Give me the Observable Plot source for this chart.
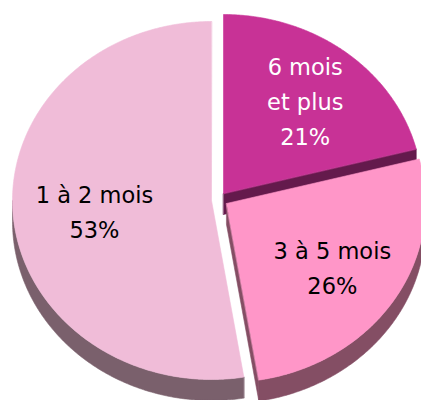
<!DOCTYPE html>
<html><head><meta charset="utf-8">
<script src="https://cdn.jsdelivr.net/npm/d3@7"></script>
<script src="https://cdn.jsdelivr.net/npm/@observablehq/plot@0.6"></script>
<style>body{margin:0;background:#fff} svg{display:block}</style>
</head><body><div id="chart"></div>
<script>
// ---- data ----
const categories = ["6 mois\net plus", "3 à 5 mois", "1 à 2 mois"];
const shares = [21.0, 26.4, 52.6];
const topColors = ["#C83296", "#FF96C8", "#F0BCD8"];
const sideColors = ["#641A4C", "#844E64", "#7A606C"];
const labelColors = ["#FFFFFF", "#000000", "#000000"];

// ---- layout ----
const W = 421, H = 400;
const RX = 199, RY = 179, DEPTH = 21;
const CENTER = [218, 200];
const explode = [[5, -7], [8, 3], [-7, 0]];
const labelR = [0.67, 0.635, 0.59];

const arcs = d3.pie().sort(null).value(d => d)(shares);

function rim(i, a, dz = 0) {
  const [ox, oy] = explode[i];
  return {x: CENTER[0] + ox + RX * Math.sin(a), y: CENTER[1] + oy - RY * Math.cos(a) + dz};
}
function apex(i, dz = 0) {
  return {x: CENTER[0] + explode[i][0], y: CENTER[1] + explode[i][1] + dz};
}
function arcPts(i, a0, a1, dz) {
  const n = Math.max(2, Math.ceil((a1 - a0) / (Math.PI / 360)));
  return d3.range(n + 1).map(k => rim(i, a0 + (a1 - a0) * k / n, dz));
}
const polygon = (pts, fill) => Plot.line(pts, {x: "x", y: "y", curve: "linear-closed", fill, stroke: fill, strokeWidth: 0.6});

const marks = [];
arcs.forEach((arc, i) => {
  const a0 = arc.startAngle, a1 = arc.endAngle;
  // outer wall (front half only)
  const b0 = Math.max(a0, Math.PI / 2), b1 = Math.min(a1, 3 * Math.PI / 2);
  if (b1 > b0) {
    marks.push(polygon([...arcPts(i, b0, b1, 0), ...arcPts(i, b0, b1, DEPTH).reverse()], sideColors[i]));
  }
  // radial faces
  if (Math.sin(a1) > 1e-6) {
    marks.push(polygon([apex(i), rim(i, a1), rim(i, a1, DEPTH), apex(i, DEPTH)], sideColors[i]));
  }
  if (-Math.sin(a0) > 1e-6) {
    marks.push(polygon([apex(i), rim(i, a0), rim(i, a0, DEPTH), apex(i, DEPTH)], sideColors[i]));
  }
  // top face
  marks.push(polygon([apex(i), ...arcPts(i, a0, a1, 0)], topColors[i]));
});

const labels = arcs.map((arc, i) => {
  const mid = (arc.startAngle + arc.endAngle) / 2;
  const c = apex(i);
  return {
    x: c.x + labelR[i] * RX * Math.sin(mid),
    y: c.y - labelR[i] * RY * Math.cos(mid),
    text: `${categories[i]}\n${Math.round(shares[i])}%`,
    color: labelColors[i]
  };
});
marks.push(Plot.text(labels, {
  x: "x", y: "y", text: "text", fill: "color",
  fontSize: 22.5, fontFamily: "DejaVu Sans", lineHeight: 1.55,
  lineAnchor: "middle", textAnchor: "middle"
}));

const chart = Plot.plot({
  width: W, height: H, margin: 0,
  x: {domain: [0, W], range: [0, W], axis: null},
  y: {domain: [0, H], range: [0, H], axis: null},
  style: {background: "white", overflow: "hidden"},
  marks
});
document.getElementById("chart").append(chart);
</script>
</body></html>
